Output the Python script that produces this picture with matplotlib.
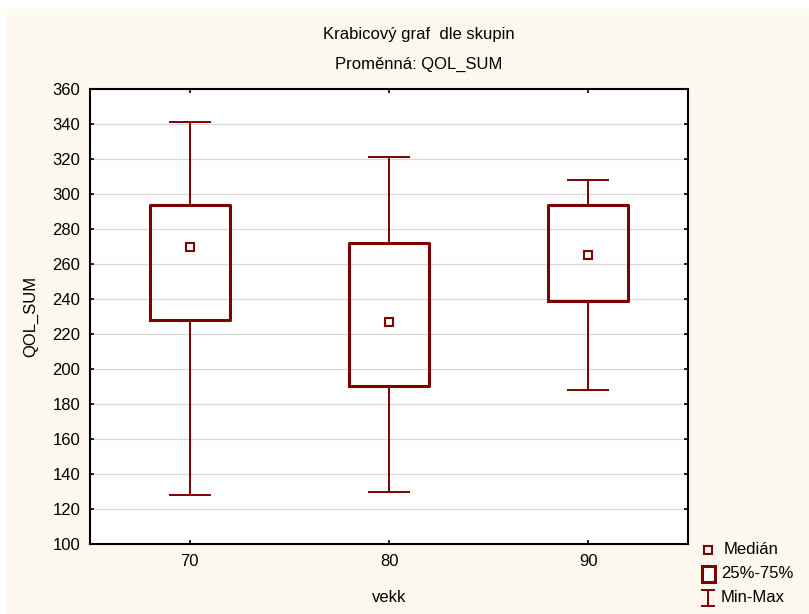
import matplotlib
matplotlib.use('Agg')
import matplotlib.pyplot as plt
from matplotlib.patches import Rectangle
from matplotlib.lines import Line2D

plt.rcParams['font.family'] = ['Liberation Sans', 'DejaVu Sans']

# data
groups = [70, 80, 90]
mins = [128, 130, 188]
q1 = [228, 190.5, 239]
medians = [269.5, 227, 265.3]
q3 = [293.5, 272, 293.5]
maxs = [341, 321, 308]

col = '#800000'
cream = '#FDF9EF'
fs = 12

fig = plt.figure(figsize=(8.09, 6.14), dpi=100)
fig.patches.append(Rectangle((7/809, 0), 1, 1 - 9/614, transform=fig.transFigure,
                             facecolor=cream, edgecolor='none', zorder=-10))

ax = fig.add_axes([90/809, (614-544)/614, 598/809, 455/614])
ax.set_facecolor('white')

stats = []
for i in range(len(groups)):
    stats.append({'med': medians[i], 'q1': q1[i], 'q3': q3[i],
                  'whislo': mins[i], 'whishi': maxs[i], 'fliers': []})

ax.bxp(stats, positions=groups, widths=4, showcaps=True,
       boxprops=dict(color=col, linewidth=2.2),
       whiskerprops=dict(color=col, linewidth=1.4),
       capprops=dict(color=col, linewidth=1.4),
       medianprops=dict(linewidth=0), capwidths=2)
ax.plot(groups, medians, linestyle='none', marker='s', markersize=6,
        markerfacecolor='white', markeredgecolor=col, markeredgewidth=1.5, zorder=5)

ax.set_xlim(65, 95)
ax.set_ylim(100, 360)
ax.set_yticks(range(100, 361, 20))
ax.set_xticks(groups)
ax.set_xticklabels([str(g) for g in groups])
ax.yaxis.grid(True, color='#D9D9D9', linewidth=0.9)
ax.set_axisbelow(True)
for s in ax.spines.values():
    s.set_linewidth(1.5)
    s.set_color('black')
ax.tick_params(direction='in', length=3, width=1.2, labelsize=fs,
               top=True, right=True, pad=7)

ax.set_ylabel('QOL_SUM', fontsize=fs, labelpad=10)
ax.set_xlabel('vekk', fontsize=fs, labelpad=15)

fig.text(419/809, 1 - 35/614, 'Krabicový graf  dle skupin', ha='center', va='center', fontsize=fs)
fig.text(419/809, 1 - 64/614, 'Proměnná: QOL_SUM', ha='center', va='center', fontsize=fs)

# legend, drawn by hand
def fx(x):
    return x / 809
def fy(y):
    return 1 - y / 614

fig.add_artist(Line2D([fx(708)], [fy(550)], marker='s', markersize=6, markerfacecolor='white',
                      markeredgecolor=col, markeredgewidth=1.5, linestyle='none'))
fig.add_artist(Rectangle((fx(702), fy(582)), 13/809, 16/614, facecolor='white',
                         edgecolor=col, linewidth=2.2))
fig.add_artist(Line2D([fx(708), fx(708)], [fy(590), fy(606)], color=col, linewidth=1.4))
fig.add_artist(Line2D([fx(702), fx(714)], [fy(590), fy(590)], color=col, linewidth=1.4))
fig.add_artist(Line2D([fx(702), fx(714)], [fy(606), fy(606)], color=col, linewidth=1.4))
fig.text(fx(724), fy(550), 'Medián', va='center', fontsize=fs)
fig.text(fx(721), fy(574), '25%-75%', va='center', fontsize=fs)
fig.text(fx(721), fy(598), 'Min-Max', va='center', fontsize=fs)

fig.savefig('out.png', dpi=100, facecolor='white')
